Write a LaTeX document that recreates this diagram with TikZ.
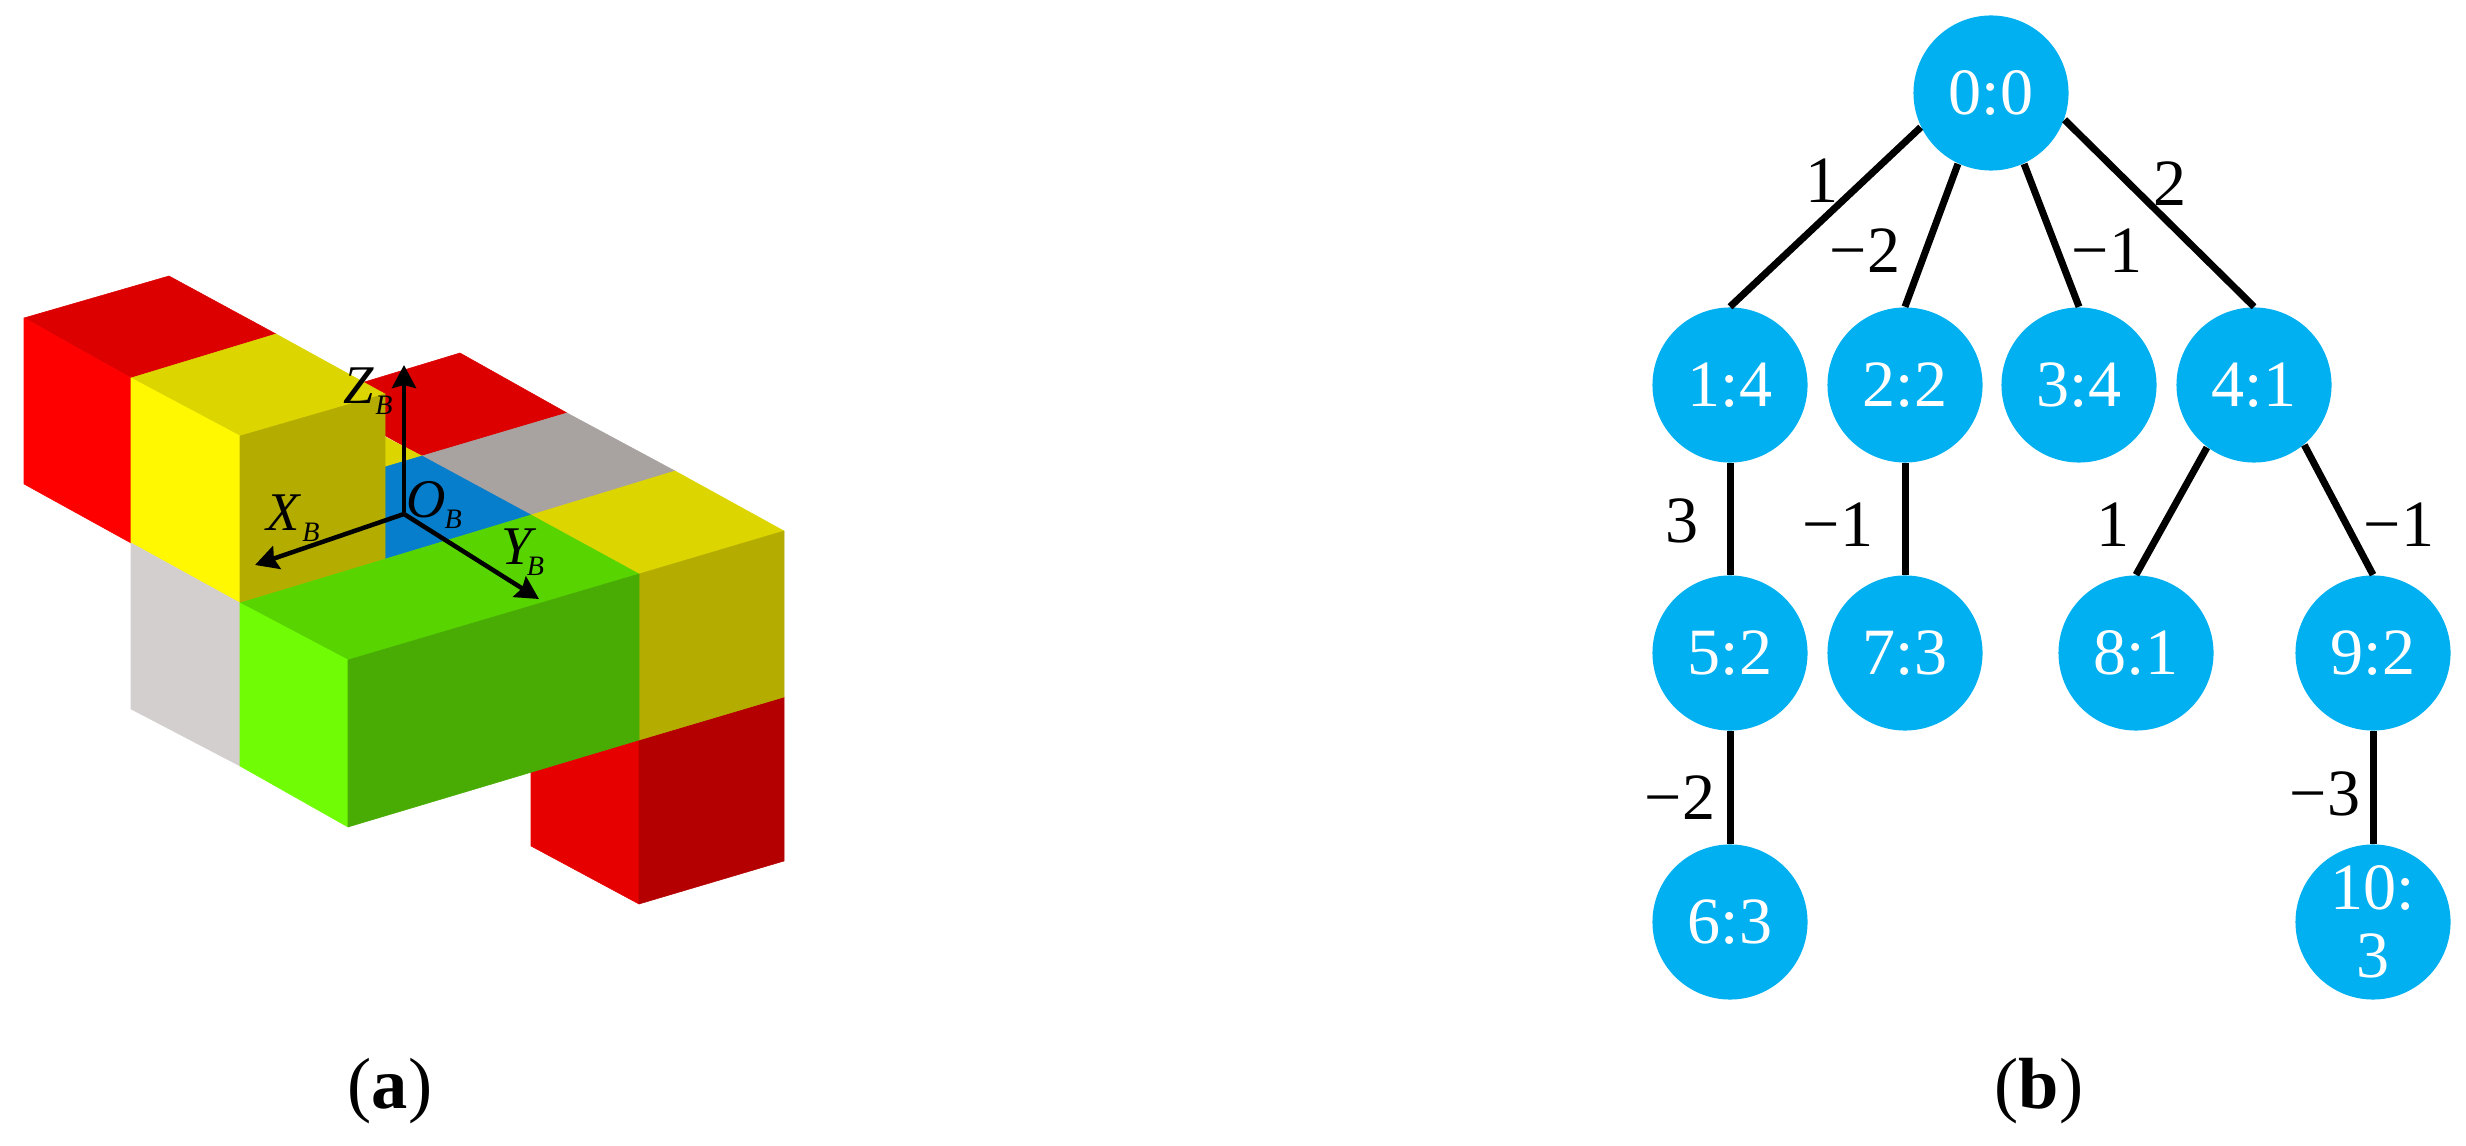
\documentclass[tikz,border=0pt]{standalone}
\usepackage{fontspec}
\setmainfont{Liberation Serif}
\usetikzlibrary{arrows.meta,positioning}

\definecolor{redtop}{HTML}{DC0000}
\definecolor{redleft}{HTML}{FF0000}
\definecolor{redleftlow}{HTML}{E60000}
\definecolor{redright}{HTML}{B40000}
\definecolor{yellowtop}{HTML}{DCD500}
\definecolor{yellowleft}{HTML}{FFF800}
\definecolor{yellowright}{HTML}{B4AD00}
\definecolor{greentop}{HTML}{58D400}
\definecolor{greenleft}{HTML}{70FC04}
\definecolor{greenright}{HTML}{48AC04}
\definecolor{greytop}{HTML}{A8A2A0}
\definecolor{greyleft}{HTML}{D4CFCF}
\definecolor{bluetop}{HTML}{067ECC}
\definecolor{nodeblue}{HTML}{00B0F0}

\newcommand{\axisname}[2][0.5pt]{#2\kern#1\raisebox{-3.2pt}{\fontsize{8}{9}\selectfont B}}

\tikzset{
  face/.style={fill=#1,draw=#1,line width=0.15pt,line join=round},
  axisarrow/.style={line width=0.45mm,-{Stealth[length=2.3mm,width=2.4mm,inset=0.3mm]}},
  axislabel/.style={inner sep=0pt,font=\fontsize{15.5}{17}\selectfont\itshape},
  treenode/.style={circle,fill=nodeblue,text=white,minimum size=1.55cm,inner sep=0pt,align=center,
    font=\fontsize{18.8}{19.3}\selectfont},
  treeedge/.style={line width=0.7mm},
  edgelabel/.style={inner sep=0pt,font=\fontsize{18.8}{20}\selectfont},
  caption/.style={inner sep=0pt,font=\fontsize{20.6}{24}\selectfont}
}

\begin{document}
\begin{tikzpicture}[x=0.01cm,y=-0.01cm]
    \useasboundingbox (0,0) rectangle (2466,1146);

    % back row of the block
    \fill[face=redtop] (460,353) -- (567,413) -- (422,456) -- (315,397) -- cycle;
    \fill[face=greytop] (567,413) -- (675,471) -- (531,515) -- (422,456) -- cycle;
    \fill[face=yellowtop] (385,437) -- (422,456) -- (385,467) -- cycle;
    \fill[face=bluetop] (385,467) -- (422,456) -- (531,515) -- (385,559) -- cycle;

    % left cubes
    \fill[face=redtop] (24,318) -- (169,276) -- (276,334) -- (131,378) -- cycle;
    \fill[face=redleft] (24,318) -- (131,378) -- (131,543) -- (24,484) -- cycle;
    \fill[face=yellowtop] (131,378) -- (276,334) -- (385,394) -- (240,436) -- cycle;
    \fill[face=yellowleft] (131,378) -- (240,436) -- (240,603) -- (131,543) -- cycle;
    \fill[face=yellowright] (240,436) -- (385,394) -- (385,559) -- (240,603) -- cycle;
    \fill[face=greyleft] (131,543) -- (240,603) -- (240,766) -- (131,709) -- cycle;

    % lower red cube
    \fill[face=redleftlow] (531,772) -- (639,740) -- (639,904) -- (531,846) -- cycle;
    \fill[face=redright] (639,740) -- (784,697) -- (784,861) -- (639,904) -- cycle;

    % right yellow cube
    \fill[face=yellowtop] (531,515) -- (675,471) -- (784,531) -- (639,574) -- cycle;
    \fill[face=yellowright] (639,574) -- (784,531) -- (784,697) -- (639,740) -- cycle;

    % green bar
    \fill[face=greentop] (240,603) -- (531,515) -- (639,574) -- (348,660) -- cycle;
    \fill[face=greenleft] (240,603) -- (348,660) -- (348,827) -- (240,766) -- cycle;
    \fill[face=greenright] (348,660) -- (639,574) -- (639,740) -- (348,827) -- cycle;

    % body axes
    \coordinate (OB) at (404,514);
    \coordinate (XB) at (255,565);
    \coordinate (YB) at (539,599);
    \coordinate (ZB) at (404,365);
    \draw[axisarrow] (OB) -- (XB);
    \draw[axisarrow] (OB) -- (YB);
    \draw[axisarrow] (OB) -- (ZB);
    \node[axislabel] (zlabel) at (368,391) {\axisname{Z}};
    \node[axislabel] (xlabel) at (293,518) {\axisname[0.8pt]{X}};
    \node[axislabel] (olabel) at (434,505) {\axisname[-0.3pt]{O}};
    \node[axislabel] (ylabel) at (523,552) {\axisname[-1.5pt]{Y}};
    \node[caption] (capa) at (390,1091) {(\textbf{a})};

    % tree
    \node[treenode] (n0) at (1991,93) {0:0};
    \node[treenode] (n1) at (1730,385) {1:4};
    \node[treenode] (n2) at (1905,385) {2:2};
    \node[treenode] (n3) at (2079,385) {3:4};
    \node[treenode] (n4) at (2254,385) {4:1};
    \node[treenode] (n5) at (1730,653) {5:2};
    \node[treenode] (n7) at (1905,653) {7:3};
    \node[treenode] (n8) at (2136,653) {8:1};
    \node[treenode] (n9) at (2373,653) {9:2};
    \node[treenode] (n6) at (1730,922) {6:3};
    \node[treenode] (n10) at (2373,922) {10:\\3};

    \draw[treeedge] (n0.206) -- (n1.north);
    \draw[treeedge] (n0.245) -- (n2.north);
    \draw[treeedge] (n0.295) -- (n3.north);
    \draw[treeedge] (n0.340) -- (n4.north);
    \draw[treeedge] (n1.south) -- (n5.north);
    \draw[treeedge] (n2.south) -- (n7.north);
    \draw[treeedge] (n4.233) -- (n8.north);
    \draw[treeedge] (n4.310) -- (n9.north);
    \draw[treeedge] (n5.south) -- (n6.north);
    \draw[treeedge] (n9.south) -- (n10.north);

    \node[edgelabel] (w01) at (1822,181) {1};
    \node[edgelabel] (w02) at (1865,251) {−2};
    \node[edgelabel] (w03) at (2107,251) {−1};
    \node[edgelabel] (w04) at (2170,184) {2};
    \node[edgelabel] (w15) at (1682,521) {3};
    \node[edgelabel] (w27) at (1838,525) {−1};
    \node[edgelabel] (w48) at (2113,525) {1};
    \node[edgelabel] (w49) at (2399,525) {−1};
    \node[edgelabel] (w56) at (1680,798) {−2};
    \node[edgelabel] (w910) at (2325,794) {−3};
    \node[caption] (capb) at (2039,1091) {(\textbf{b})};
\end{tikzpicture}
\end{document}
